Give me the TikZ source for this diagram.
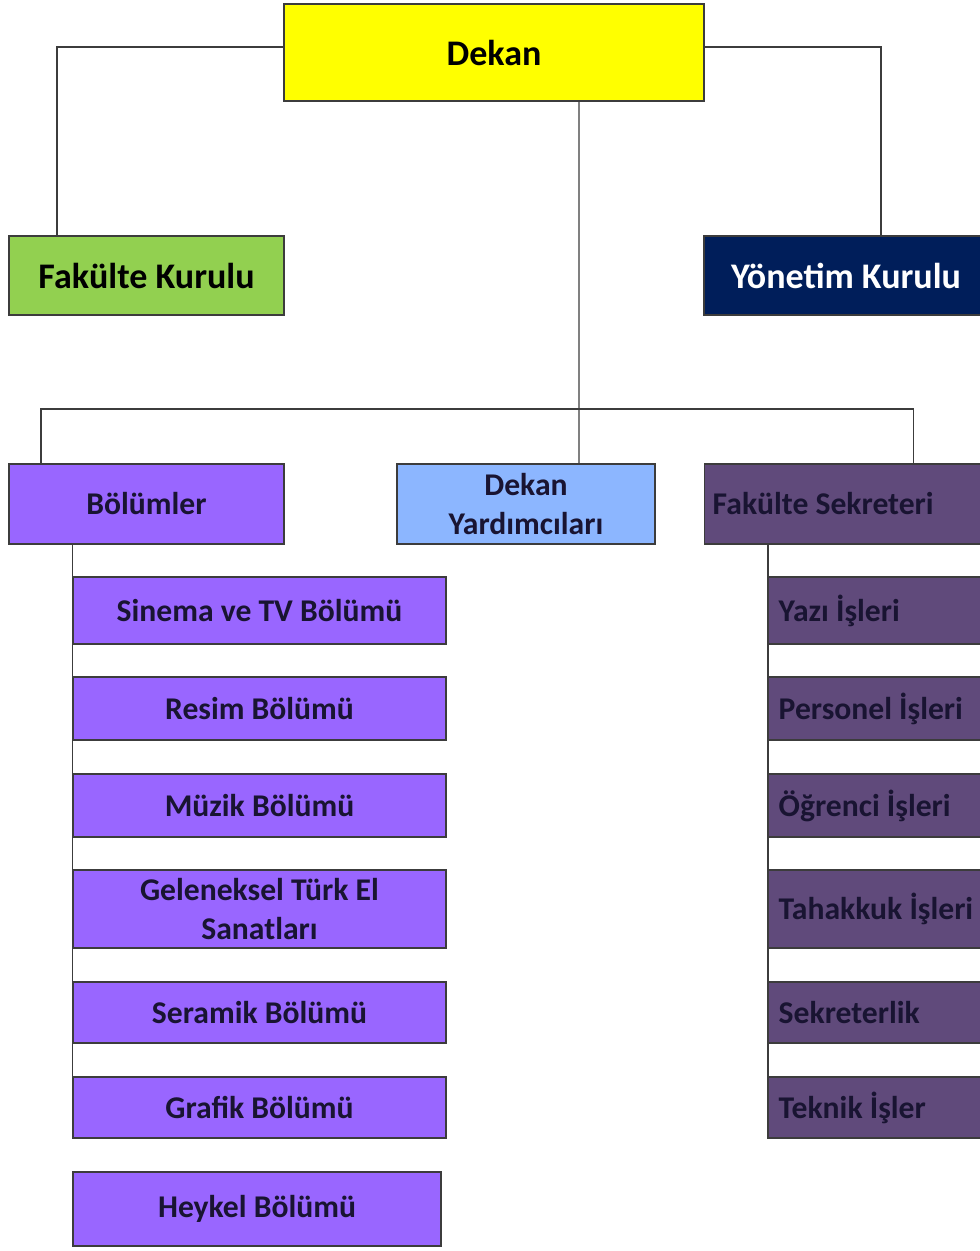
\documentclass[tikz,border=0pt]{standalone}
\usepackage{fontspec}
\setmainfont{Carlito}
\definecolor{dekanyellow}{RGB}{255,255,0}
\definecolor{kurulgreen}{RGB}{146,208,80}
\definecolor{kurulnavy}{RGB}{0,30,90}
\definecolor{bolumpurple}{RGB}{153,102,255}
\definecolor{yardimblue}{RGB}{140,182,255}
\definecolor{sekreterplum}{RGB}{96,74,123}
\definecolor{boxline}{RGB}{60,60,60}
\definecolor{darktext}{RGB}{25,20,50}

\begin{document}
\begin{tikzpicture}[
        unit/.style={rectangle, draw=boxline, line width=0.8pt, align=center,
            font=\bfseries\fontsize{20.5}{24}\selectfont, inner sep=0pt},
        subunit/.style={rectangle, draw=boxline, line width=0.8pt, align=center,
            font=\bfseries\fontsize{18}{22}\selectfont, text=darktext, inner sep=0pt},
        office/.style={subunit, fill=sekreterplum, anchor=west, minimum width=4.8cm,
            text width=4.4cm, align=left, inner xsep=0.2cm,
            execute at begin node={\spaceskip=0pt\xspaceskip=0pt}},
        link/.style={draw=boxline, line width=0.8pt}
    ]
        \useasboundingbox (0,0) rectangle (19.6,-25.02);

        % Top of the faculty
        \node[unit, fill=dekanyellow, minimum width=8.4cm, minimum height=1.94cm] (dekan) at (9.88,-1.05) {Dekan};

        % Boards beside the dean
        \node[unit, fill=kurulgreen, minimum width=5.5cm, minimum height=1.58cm] (fakkurul) at (2.93,-5.51) {Fakülte Kurulu};
        \node[unit, fill=kurulnavy, text=white, minimum width=5.68cm, minimum height=1.58cm] (yonetim) at (16.92,-5.51) {Yönetim Kurulu};

        % Second row
        \node[subunit, fill=bolumpurple, minimum width=5.5cm, minimum height=1.6cm] (bolumler) at (2.93,-10.08) {Bölümler};
        \node[subunit, fill=yardimblue, minimum width=5.16cm, minimum height=1.6cm] (yardimci) at (10.52,-10.08) {Dekan\\Yardımcıları};
        \node[office, minimum width=5.68cm, text width=5.36cm, inner xsep=0.16cm, minimum height=1.6cm] (sekreter) at (14.08,-10.08) {Fakülte Sekreteri};

        % Departments
        \node[subunit, fill=bolumpurple, minimum width=7.46cm, minimum height=1.34cm] (sinema) at (5.19,-12.21) {Sinema ve TV Bölümü};
        \node[subunit, fill=bolumpurple, minimum width=7.46cm, minimum height=1.26cm] (resim) at (5.19,-14.17) {Resim Bölümü};
        \node[subunit, fill=bolumpurple, minimum width=7.46cm, minimum height=1.26cm] (muzik) at (5.19,-16.11) {Müzik Bölümü};
        \node[subunit, fill=bolumpurple, minimum width=7.46cm, minimum height=1.56cm] (geleneksel) at (5.19,-18.18) {Geleneksel Türk El\\Sanatları};
        \node[subunit, fill=bolumpurple, minimum width=7.46cm, minimum height=1.22cm] (seramik) at (5.19,-20.25) {Seramik Bölümü};
        \node[subunit, fill=bolumpurple, minimum width=7.46cm, minimum height=1.22cm] (grafik) at (5.19,-22.15) {Grafik Bölümü};
        \node[subunit, fill=bolumpurple, minimum width=7.36cm, minimum height=1.48cm] (heykel) at (5.14,-24.18) {Heykel Bölümü};

        % Offices under the secretary
        \node[office, minimum height=1.34cm] (yazi) at (15.36,-12.21) {Yazı İşleri};
        \node[office, minimum height=1.26cm] (personel) at (15.36,-14.17) {Personel İşleri};
        \node[office, minimum height=1.26cm] (ogrenci) at (15.36,-16.11) {Öğrenci İşleri};
        \node[office, minimum height=1.56cm] (tahakkuk) at (15.36,-18.18) {Tahakkuk İşleri};
        \node[office, minimum height=1.22cm] (sekreterlik) at (15.36,-20.25) {Sekreterlik};
        \node[office, minimum height=1.22cm] (teknik) at (15.36,-22.15) {Teknik İşler};

        % Connect everything
        \coordinate (bus) at (11.58,-8.18);
        \draw[link] ([yshift=0.11cm]dekan.west) -| ([xshift=-1.79cm]fakkurul.north);
        \draw[link] ([yshift=0.11cm]dekan.east) -| ([xshift=0.7cm]yonetim.north);
        \draw[link] ([xshift=1.7cm]dekan.south) -- ([xshift=1.06cm]yardimci.north);
        \draw[link] ([xshift=-2.11cm]bolumler.north) |- (bus) -| ([xshift=1.34cm]sekreter.north);
        \draw[link] (bolumler.south -| sinema.west) -- (grafik.south west);
        \draw[link] (sekreter.south -| yazi.west) -- (teknik.south west);
    \end{tikzpicture}
\end{document}
